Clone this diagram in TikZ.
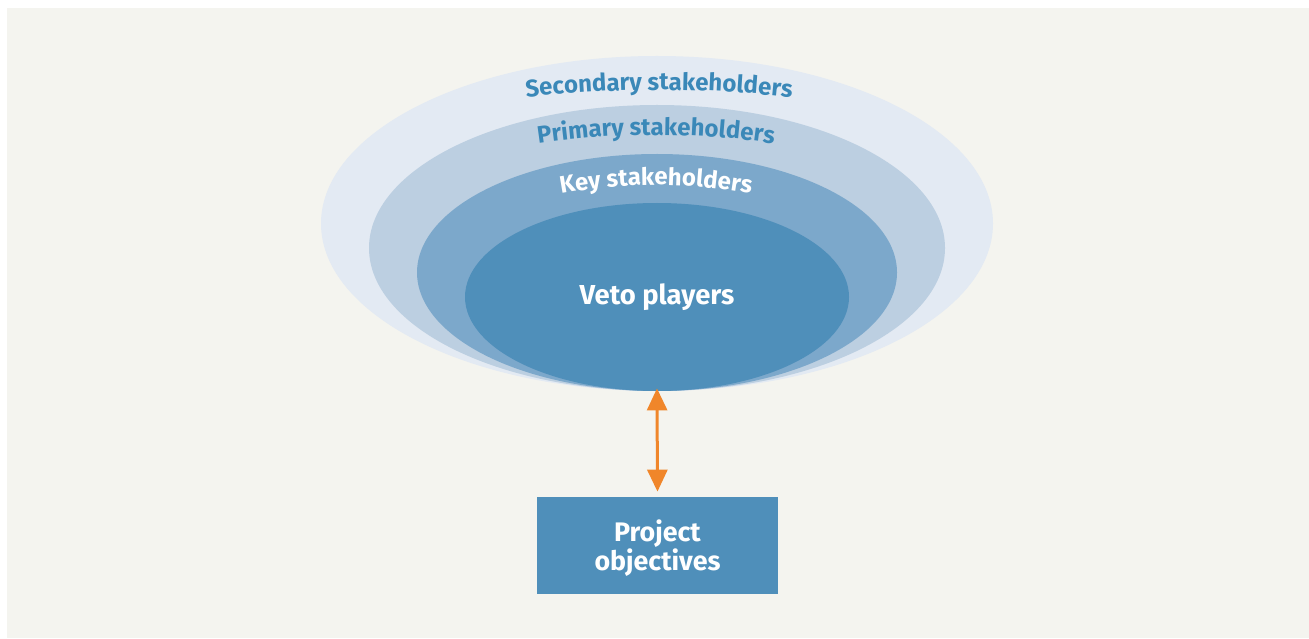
\documentclass[tikz,border=0pt]{standalone}
\usepackage{fontspec}
\setmainfont{Fira Sans}
\usetikzlibrary{shapes.geometric,arrows.meta,decorations.text}
\definecolor{bgcol}{HTML}{F4F4EF}
\definecolor{ringsec}{HTML}{E3EAF3}
\definecolor{ringpri}{HTML}{BCCFE1}
\definecolor{ringkey}{HTML}{7CA8CB}
\definecolor{vetoblue}{HTML}{4F8FBA}
\definecolor{labblue}{HTML}{3A88B8}
\definecolor{arrorange}{HTML}{F0862A}
\begin{document}
\begin{tikzpicture}[x=0.5pt, y=0.5pt, font=\bfseries,
	layer/.style={ellipse, inner sep=0pt},
	ringtext/.style={decorate, decoration={text along path, text align=center}},
	tip/.tip={Triangle[length=11pt, width=10pt]}]
	\useasboundingbox (0,0) rectangle (1309,638);
	\fill[bgcol] (7,0) rectangle (1309,630);
	% the four rings, all resting on the same bottom point
	\node[layer, fill=ringsec, minimum width=336pt, minimum height=167.5pt] (sec) at (657,414.5) {};
	\node[layer, fill=ringpri, minimum width=288pt, minimum height=143pt] (pri) at (657,390) {};
	\node[layer, fill=ringkey, minimum width=240pt, minimum height=118.5pt] (key) at (657,365.5) {};
	\node[layer, fill=vetoblue, minimum width=192pt, minimum height=94pt, text=white,
		font=\bfseries\fontsize{13.7}{16}\selectfont] (veto) at (657,341) {Veto players};
	% curved labels
	\path[ringtext, decoration={text={|\bfseries\fontsize{12}{14}\selectfont\color{labblue}|Secondary stakeholders}}]
		(659,-652) ++(102:1200) arc[start angle=102, end angle=78, radius=1200];
	\path[ringtext, decoration={text={|\bfseries\fontsize{12}{14}\selectfont\color{labblue}|Primary stakeholders}}]
		(656,-297) ++(105:800) arc[start angle=105, end angle=75, radius=800];
	\path[ringtext, decoration={text={|\bfseries\fontsize{12}{14}\selectfont\color{white}|Key stakeholders}}]
		(656,-67) ++(112:520) arc[start angle=112, end angle=68, radius=520];
	\node[fill=vetoblue, minimum width=120.5pt, minimum height=48.5pt, inner sep=0pt] (obj) at (657.5,92.5) {};
	\node[text=white, align=center, font=\bfseries\fontsize{13.4}{14.5}\selectfont] (objtxt)
		at ([yshift=-1.5pt]obj.center) {Project\\objectives};
	\draw[arrorange, line width=1.5pt, tip-tip, shorten <=-1.5pt, shorten >=2.5pt] (veto.south) -- (obj.north);
\end{tikzpicture}
\end{document}
